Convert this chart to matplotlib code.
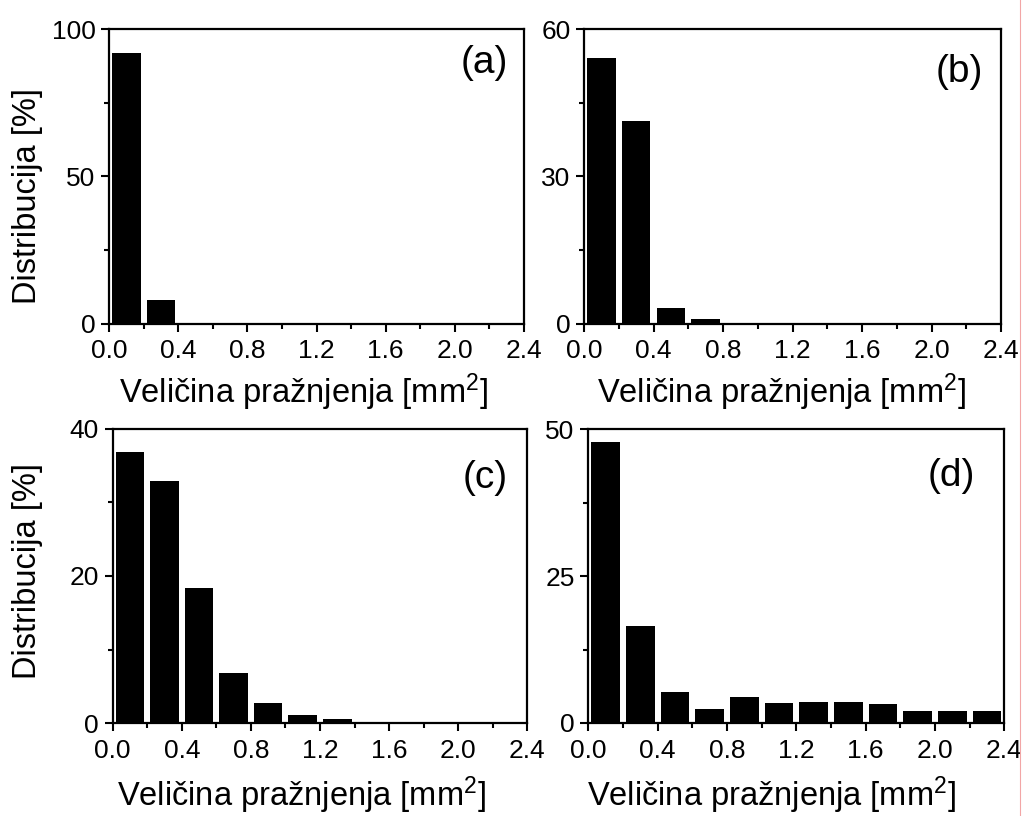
import matplotlib
matplotlib.use("Agg")
import matplotlib.pyplot as plt
from matplotlib.ticker import MultipleLocator, FixedLocator
from matplotlib.lines import Line2D

plt.rcParams['font.family'] = ['Liberation Sans', 'DejaVu Sans']
plt.rcParams['mathtext.default'] = 'regular'

# ---- data ----
bin_centers = [0.1, 0.3, 0.5, 0.7, 0.9, 1.1, 1.3, 1.5, 1.7, 1.9, 2.1, 2.3]
dist_a = [91.8, 7.9, 0, 0, 0, 0, 0, 0, 0, 0, 0, 0]
dist_b = [54.1, 41.3, 3.1, 0.9, 0, 0, 0, 0, 0, 0, 0, 0]
dist_c = [36.8, 32.9, 18.4, 6.8, 2.7, 1.1, 0.6, 0, 0, 0, 0, 0]
dist_d = [47.9, 16.5, 5.3, 2.45, 4.4, 3.4, 3.55, 3.55, 3.2, 2.1, 2.1, 2.1]
panel_labels = ['(a)', '(b)', '(c)', '(d)']
y_max = [100, 60, 40, 50]
x_ticks = [0.0, 0.4, 0.8, 1.2, 1.6, 2.0, 2.4]
x_ticklabels = ['0.0', '0.4', '0.8', '1.2', '1.6', '2.0', '2.4']
xlabel = 'Veličina pražnjenja [mm$^{2}$]'
ylabel = 'Distribucija [%]'

W, H = 1023, 816
fig = plt.figure(figsize=(W / 100, H / 100), dpi=100)

# pixel boxes: left, top, right, bottom
boxes = [(109, 29.3, 524, 323.5),
         (584, 29.3, 1001, 323.5),
         (112.7, 428.5, 527.3, 723.3),
         (588.3, 429.3, 1004.3, 723.0)]
# panel letter positions (px): right edge x, center y
letter_pos = [(508, 63), (983, 72), (508, 478), (975, 476)]
xlabel_pos = [(304, 392), (782, 392), (302, 795), (772, 795)]
ylabel_pos = [(28, 196), None, (28, 571), None]

data = [dist_a, dist_b, dist_c, dist_d]

for i, (vals, box) in enumerate(zip(data, boxes)):
    l, t, r, b = box
    ax = fig.add_axes([l / W, 1 - b / H, (r - l) / W, (b - t) / H])
    ax.bar(bin_centers, vals, width=0.165, color='black', edgecolor='none', zorder=1)
    ax.set_xlim(0, 2.4)
    ax.set_ylim(0, y_max[i])
    ax.set_xticks(x_ticks)
    ax.set_xticklabels(x_ticklabels)
    ax.xaxis.set_minor_locator(MultipleLocator(0.2))
    ax.set_yticks([0, y_max[i] / 2, y_max[i]])
    ax.set_yticklabels([f'{v:g}' for v in [0, y_max[i] / 2, y_max[i]]])
    ax.yaxis.set_minor_locator(FixedLocator([y_max[i] / 4, 3 * y_max[i] / 4]))
    for s in ax.spines.values():
        s.set_linewidth(1.6)
        s.set_zorder(3)
    ax.tick_params(which='major', direction='out', length=5.8, width=1.5,
                   labelsize=19, top=False, right=False)
    ax.tick_params(axis='x', which='major', pad=5.5)
    ax.tick_params(axis='y', which='major', pad=4)
    ax.tick_params(which='minor', direction='out', length=3.6, width=1.5,
                   top=False, right=False)
    lx, ly = letter_pos[i]
    fig.text(lx / W, 1 - ly / H, panel_labels[i], fontsize=28,
             ha='right', va='center')
    xx, xy = xlabel_pos[i]
    fig.text(xx / W, 1 - xy / H, xlabel, fontsize=23.5, ha='center', va='center')
    if ylabel_pos[i] is not None:
        yx, yy = ylabel_pos[i]
        fig.text(yx / W, 1 - yy / H, ylabel, fontsize=23.5, ha='center',
                 va='center', rotation=90)

# faint scan-edge line at the right
fig.add_artist(Line2D([1020 / W, 1020 / W], [0, 1], color='#f2a6a6', lw=0.8,
                      transform=fig.transFigure))

fig.savefig('out.png', dpi=100)
